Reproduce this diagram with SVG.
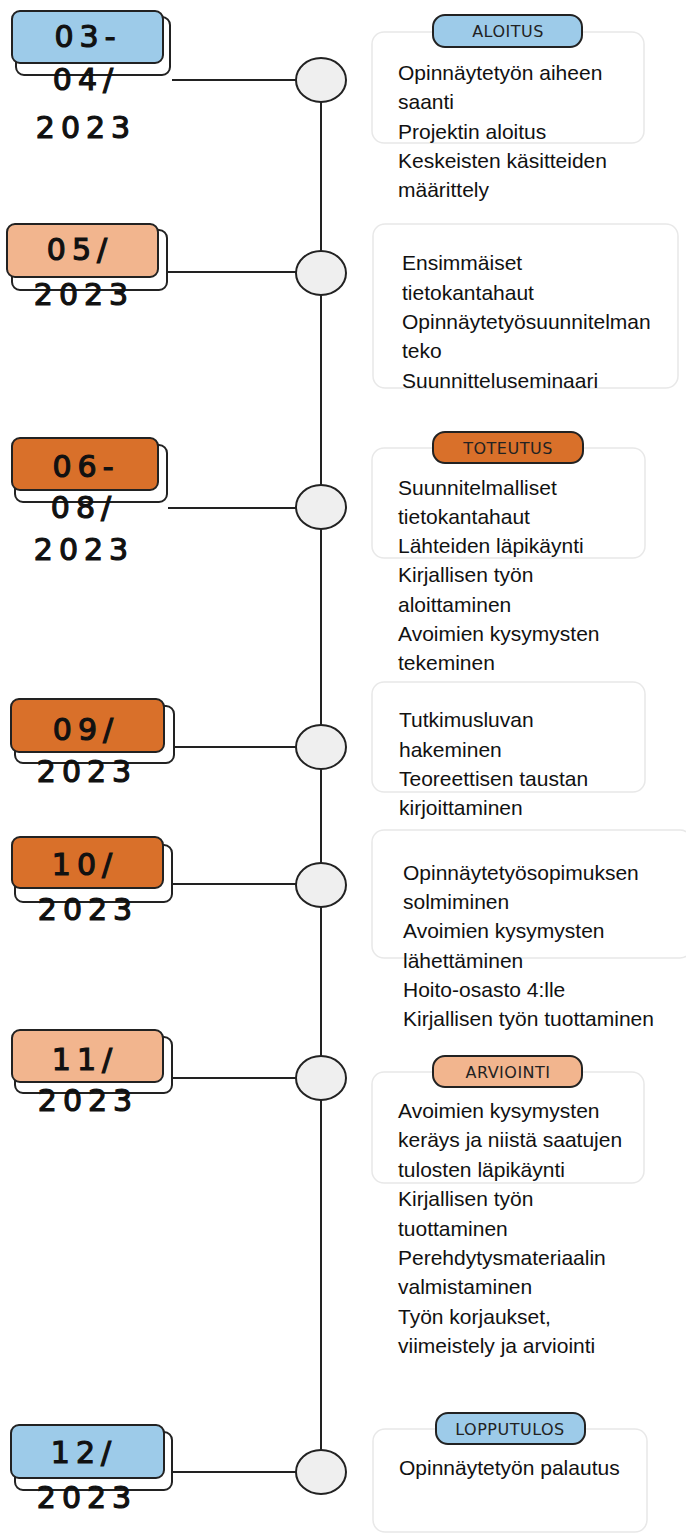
<svg xmlns="http://www.w3.org/2000/svg" width="686" height="1535" viewBox="0 0 686 1535">
<style>
.back{fill:#fff;stroke:#222;stroke-width:2}
.front{stroke:#222;stroke-width:2}
.blue{fill:#9dcbe9}
.lor{fill:#f2b58e}
.dor{fill:#d9702a}
.date{font-family:"DejaVu Sans",sans-serif;font-size:30px;fill:#111;stroke:#111;stroke-width:1.2;letter-spacing:6px;text-anchor:middle}
.dot{fill:#efefef;stroke:#222;stroke-width:2}
.conn{stroke:#222;stroke-width:2;fill:none}
.card{fill:#fff;stroke:#e8e8e8;stroke-width:1.5}
.pill{stroke:#222;stroke-width:2}
.ptxt{font-family:"DejaVu Sans",sans-serif;font-size:16px;fill:#222;letter-spacing:0.5px;text-anchor:middle}
.body{font-family:"Liberation Sans",Arial,sans-serif;font-size:21px;fill:#111}
</style>
<g id="connectors">
<line class="conn" x1="321" y1="80" x2="321" y2="1472"/>
<line class="conn" x1="172" y1="80" x2="297" y2="80"/>
<line class="conn" x1="167" y1="272" x2="297" y2="272"/>
<line class="conn" x1="168" y1="508" x2="297" y2="508"/>
<line class="conn" x1="174" y1="747" x2="297" y2="747"/>
<line class="conn" x1="172" y1="884" x2="297" y2="884"/>
<line class="conn" x1="172" y1="1078" x2="297" y2="1078"/>
<line class="conn" x1="172" y1="1472" x2="297" y2="1472"/>
</g>
<g id="date1">
<rect class="back" x="16" y="17" width="154" height="58" rx="8"/>
<rect class="front blue" x="12" y="11" width="151" height="52" rx="8"/>
<text class="date" x="88" y="47">03-</text>
<text class="date" x="86" y="90">04/</text>
<text class="date" x="86" y="138">2023</text>
</g>
<g id="date2">
<rect class="back" x="12" y="230" width="155" height="60" rx="8"/>
<rect class="front lor" x="7" y="224" width="151" height="53" rx="8"/>
<text class="date" x="80" y="260">05/</text>
<text class="date" x="84" y="305">2023</text>
</g>
<g id="date3">
<rect class="back" x="15" y="445" width="152" height="57" rx="8"/>
<rect class="front dor" x="12" y="438" width="146" height="52" rx="8"/>
<text class="date" x="86" y="477">06-</text>
<text class="date" x="84" y="518">08/</text>
<text class="date" x="84" y="560">2023</text>
</g>
<g id="date4">
<rect class="back" x="15" y="706" width="159" height="57" rx="8"/>
<rect class="front dor" x="11" y="699" width="153" height="53" rx="8"/>
<text class="date" x="86" y="740">09/</text>
<text class="date" x="87" y="782">2023</text>
</g>
<g id="date5">
<rect class="back" x="15" y="845" width="157" height="57" rx="8"/>
<rect class="front dor" x="12" y="837" width="151" height="51" rx="8"/>
<text class="date" x="85" y="875">10/</text>
<text class="date" x="88" y="920">2023</text>
</g>
<g id="date6">
<rect class="back" x="15" y="1037" width="157" height="56" rx="8"/>
<rect class="front lor" x="12" y="1030" width="151" height="52" rx="8"/>
<text class="date" x="85" y="1070">11/</text>
<text class="date" x="88" y="1111">2023</text>
</g>
<g id="date7">
<rect class="back" x="15" y="1432" width="157" height="58" rx="8"/>
<rect class="front blue" x="11" y="1425" width="153" height="53" rx="8"/>
<text class="date" x="84" y="1463">12/</text>
<text class="date" x="87" y="1508">2023</text>
</g>
<g id="dots">
<ellipse class="dot" cx="321" cy="80" rx="25" ry="22"/>
<ellipse class="dot" cx="321" cy="273" rx="25" ry="22"/>
<ellipse class="dot" cx="321" cy="507" rx="25" ry="22"/>
<ellipse class="dot" cx="321" cy="747" rx="25" ry="22"/>
<ellipse class="dot" cx="321" cy="885" rx="25" ry="22"/>
<ellipse class="dot" cx="321" cy="1078" rx="25" ry="22"/>
<ellipse class="dot" cx="321" cy="1472" rx="25" ry="22"/>
</g>
<g id="card1">
<rect class="card" x="372" y="32" width="272" height="111" rx="12"/>
<rect class="pill blue" x="433" y="15" width="149" height="32" rx="12"/>
<text class="ptxt" x="508" y="37">ALOITUS</text>
<text class="body" x="398" y="80">Opinnäytetyön aiheen</text>
<text class="body" x="398" y="109">saanti</text>
<text class="body" x="398" y="139">Projektin aloitus</text>
<text class="body" x="398" y="168">Keskeisten käsitteiden</text>
<text class="body" x="398" y="197">määrittely</text>
</g>
<g id="card2">
<rect class="card" x="373" y="224" width="305" height="164" rx="12"/>
<text class="body" x="402" y="270">Ensimmäiset</text>
<text class="body" x="402" y="300">tietokantahaut</text>
<text class="body" x="402" y="329">Opinnäytetyösuunnitelman</text>
<text class="body" x="402" y="358">teko</text>
<text class="body" x="402" y="388">Suunnitteluseminaari</text>
</g>
<g id="card3">
<rect class="card" x="372" y="448" width="273" height="110" rx="12"/>
<rect class="pill dor" x="433" y="432" width="150" height="31" rx="12"/>
<text class="ptxt" x="508" y="454">TOTEUTUS</text>
<text class="body" x="398" y="495">Suunnitelmalliset</text>
<text class="body" x="398" y="524">tietokantahaut</text>
<text class="body" x="398" y="553">Lähteiden läpikäynti</text>
<text class="body" x="398" y="582">Kirjallisen työn</text>
<text class="body" x="398" y="612">aloittaminen</text>
<text class="body" x="398" y="641">Avoimien kysymysten</text>
<text class="body" x="398" y="670">tekeminen</text>
</g>
<g id="card4">
<rect class="card" x="372" y="682" width="273" height="110" rx="12"/>
<text class="body" x="399" y="727">Tutkimusluvan</text>
<text class="body" x="399" y="757">hakeminen</text>
<text class="body" x="399" y="786">Teoreettisen taustan</text>
<text class="body" x="399" y="815">kirjoittaminen</text>
</g>
<g id="card5">
<rect class="card" x="372" y="830" width="320" height="128" rx="12"/>
<text class="body" x="403" y="880">Opinnäytetyösopimuksen</text>
<text class="body" x="403" y="909">solmiminen</text>
<text class="body" x="403" y="938">Avoimien kysymysten</text>
<text class="body" x="403" y="968">lähettäminen</text>
<text class="body" x="403" y="997">Hoito-osasto 4:lle</text>
<text class="body" x="403" y="1026">Kirjallisen työn tuottaminen</text>
</g>
<g id="card6">
<rect class="card" x="372" y="1072" width="272" height="111" rx="12"/>
<rect class="pill lor" x="433" y="1056" width="149" height="31" rx="12"/>
<text class="ptxt" x="508" y="1078">ARVIOINTI</text>
<text class="body" x="398" y="1118">Avoimien kysymysten</text>
<text class="body" x="398" y="1147">keräys ja niistä saatujen</text>
<text class="body" x="398" y="1177">tulosten läpikäynti</text>
<text class="body" x="398" y="1206">Kirjallisen työn</text>
<text class="body" x="398" y="1236">tuottaminen</text>
<text class="body" x="398" y="1265">Perehdytysmateriaalin</text>
<text class="body" x="398" y="1294">valmistaminen</text>
<text class="body" x="398" y="1324">Työn korjaukset,</text>
<text class="body" x="398" y="1353">viimeistely ja arviointi</text>
</g>
<g id="card7">
<rect class="card" x="373" y="1429" width="274" height="103" rx="12"/>
<rect class="pill blue" x="436" y="1413" width="149" height="31" rx="12"/>
<text class="ptxt" x="510" y="1435">LOPPUTULOS</text>
<text class="body" x="399" y="1475">Opinnäytetyön palautus</text>
</g>
</svg>
